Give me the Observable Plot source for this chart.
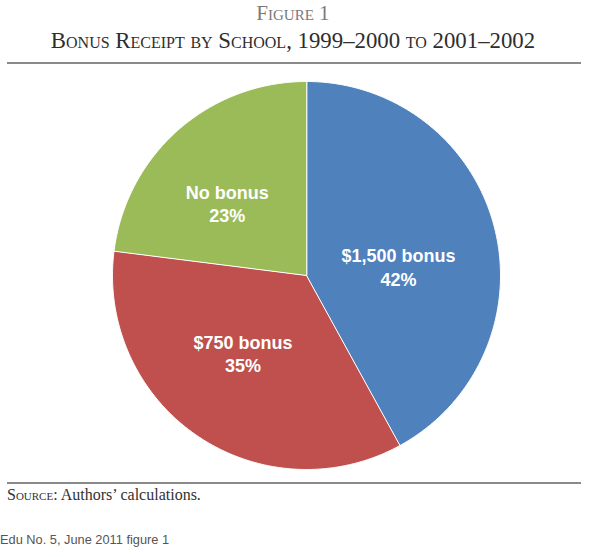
<!DOCTYPE html>
<html>
<head>
<meta charset="utf-8">
<script src="https://cdn.jsdelivr.net/npm/d3@7"></script>
<script src="https://cdn.jsdelivr.net/npm/@observablehq/plot@0.6"></script>
<style>
  html, body { margin: 0; padding: 0; background: #fff; }
  body { width: 607px; height: 557px; position: relative; overflow: hidden; }
  .serif { font-family: "Liberation Serif", "DejaVu Serif", serif; }
  #fig { position: absolute; left: 0; top: 1px; width: 586px; text-align: center; font-size: 21px; color: #7a7a7a; font-variant: small-caps; }
  #sub { position: absolute; left: 0; top: 28px; width: 586px; text-align: center; font-size: 22.8px; color: #2e2e2e; font-variant: small-caps; }
  .rule { position: absolute; left: 7px; width: 574px; height: 0; border-top: 2px solid #8a8a8a; }
  #chart { position: absolute; left: 0; top: 70px; }
  #src { position: absolute; left: 7px; top: 486px; font-size: 16px; color: #333; }
  #src .sc { font-variant: small-caps; }
  #edu { position: absolute; left: 0; top: 532px; font-family: "Liberation Sans", Arial, sans-serif; font-size: 12.8px; color: #555; }
</style>
</head>
<body>
<div id="fig" class="serif">Figure 1</div>
<div id="sub" class="serif">Bonus Receipt by School, 1999–2000 to 2001–2002</div>
<div class="rule" style="top:62px"></div>
<div id="chart"></div>
<div class="rule" style="top:482px"></div>
<div id="src" class="serif"><span class="sc">Source</span>: Authors’ calculations.</div>
<div id="edu">Edu No. 5, June 2011 figure 1</div>
<script>
const categories = ["$1,500 bonus", "$750 bonus", "No bonus"];
const values = [42, 35, 23];
const colors = ["#4F81BD", "#C0504D", "#9BBB59"];

const total = d3.sum(values);
const slices = [];
let acc = 0;
categories.forEach((c, i) => {
  const a0 = acc / total * 2 * Math.PI;
  acc += values[i];
  const a1 = acc / total * 2 * Math.PI;
  slices.push({cat: c, value: values[i], a0, a1});
});

const pts = [];
for (const s of slices) {
  pts.push({cat: s.cat, x: 0, y: 0});
  const n = Math.max(2, Math.ceil((s.a1 - s.a0) / (Math.PI / 360)));
  for (let k = 0; k <= n; k++) {
    const a = s.a0 + (s.a1 - s.a0) * k / n;
    pts.push({cat: s.cat, x: Math.sin(a), y: Math.cos(a)});
  }
}

const labels = slices.map(s => {
  const m = (s.a0 + s.a1) / 2;
  return {cat: s.cat, text: `${s.cat}\n${s.value}%`, x: 0.5 * Math.sin(m), y: 0.5 * Math.cos(m)};
});

// small placement nudges (pixels) to mimic the original label layout
const nudges = [[-2, 15], [-9, -3], [-15, 0]];

const W = 607, H = 410, R = 194, cx = 306, cy = 205;
const textStyle = {x: "x", y: "y", text: "text", fill: "white", fontSize: 18, fontWeight: "bold", lineHeight: 1.3, fontFamily: "Liberation Sans, Arial, sans-serif"};
const chart = Plot.plot({
  width: W,
  height: H,
  margin: 0,
  x: {domain: [-cx / R, (W - cx) / R], axis: null},
  y: {domain: [-(H - cy) / R, cy / R], axis: null},
  color: {domain: categories, range: colors},
  marks: [
    Plot.line(pts, {x: "x", y: "y", z: "cat", fill: "cat", stroke: "white", strokeWidth: 1, curve: "linear-closed"}),
    ...labels.map((l, i) => Plot.text([l], {...textStyle, dx: nudges[i][0], dy: nudges[i][1]}))
  ]
});
document.getElementById("chart").appendChild(chart);
</script>
</body>
</html>
